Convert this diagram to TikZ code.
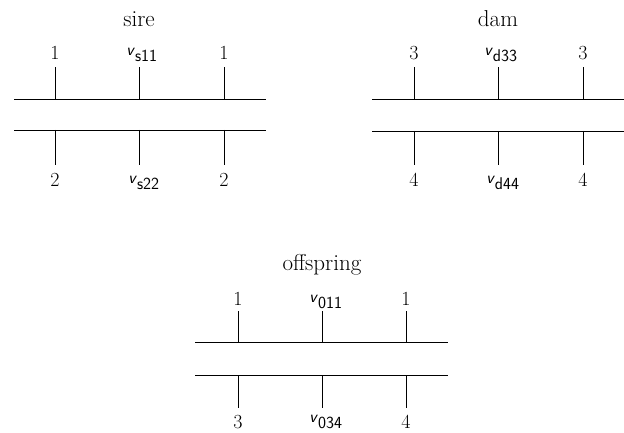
\documentclass[tikz,border=0pt]{standalone}
\usepackage{fontspec}
\usepackage{tikz}
\usetikzlibrary{positioning}

\newcommand{\locvar}[1]{\textsf{\itshape v}$_{\textsf{#1}}$}

\begin{document}
\begin{tikzpicture}[
    x=1pt, y=-1pt,
    chrom/.style={line width=0.9pt},
    locus/.style={line width=0.8pt},
    allele/.style={font=\fontsize{20}{22}\selectfont, inner sep=0pt},
    variance/.style={font=\fontsize{17}{19}\selectfont, inner sep=0pt},
    title/.style={font=\fontsize{23}{26}\selectfont, inner sep=0pt},
  ]
  \useasboundingbox (0,0) rectangle (624,433);

% ============================ sire ======================================
\begin{scope}[shift={(14,99)}]
  % ---- the two homologous lines ----------------------------------------
  \coordinate (sTopL) at (0,0);   \coordinate (sTopR) at (252,0);
  \coordinate (sBotL) at (0,31);  \coordinate (sBotR) at (252,31);
  \draw[chrom] (sTopL) -- (sTopR);
  \draw[chrom] (sBotL) -- (sBotR);

  % ---- loci and alleles -------------------------------------------------
  \coordinate (sA) at (41,0);   \coordinate (sAb) at (41,31);
  \coordinate (sB) at (125,0);  \coordinate (sBb) at (125,31);
  \coordinate (sC) at (210,0);  \coordinate (sCb) at (210,31);
  \node[allele] (sA1) at (41,-46) {1};
  \node[variance] (sB1) at (128,-44) {\locvar{s11}};
  \node[allele] (sC1) at (210,-46) {1};
  \node[allele] (sA2) at (41,81) {2};
  \node[variance] (sB2) at (130,84) {\locvar{s22}};
  \node[allele] (sC2) at (210,81) {2};
  \draw[locus] (sA) -- ++(0,-32);  \draw[locus] (sAb) -- ++(0,35);
  \draw[locus] (sB) -- ++(0,-32);  \draw[locus] (sBb) -- ++(0,35);
  \draw[locus] (sC) -- ++(0,-32);  \draw[locus] (sCb) -- ++(0,35);

  \node[title] (sire) at (125,-80) {sire};
\end{scope}

% ============================ dam =======================================
\begin{scope}[shift={(372,99)}]
  \coordinate (dTopL) at (0,0);   \coordinate (dTopR) at (252,0);
  \coordinate (dBotL) at (0,32);  \coordinate (dBotR) at (252,32);
  \draw[chrom] (dTopL) -- (dTopR);
  \draw[chrom] (dBotL) -- (dBotR);

  \coordinate (dA) at (42,0);   \coordinate (dAb) at (42,32);
  \coordinate (dB) at (126,0);  \coordinate (dBb) at (126,32);
  \coordinate (dC) at (211,0);  \coordinate (dCb) at (211,32);
  \node[allele] (dA3) at (42,-46) {3};
  \node[variance] (dB3) at (129,-44) {\locvar{d33}};
  \node[allele] (dC3) at (211,-46) {3};
  \node[allele] (dA4) at (42,81) {4};
  \node[variance] (dB4) at (131,84) {\locvar{d44}};
  \node[allele] (dC4) at (211,81) {4};
  \draw[locus] (dA) -- ++(0,-32);  \draw[locus] (dAb) -- ++(0,34);
  \draw[locus] (dB) -- ++(0,-32);  \draw[locus] (dBb) -- ++(0,34);
  \draw[locus] (dC) -- ++(0,-32);  \draw[locus] (dCb) -- ++(0,34);

  \node[title] (dam) at (126,-80) {dam};
\end{scope}

% ============================ offspring =================================
\begin{scope}[shift={(195,342)}]
  \coordinate (oTopL) at (0,0);   \coordinate (oTopR) at (253,0);
  \coordinate (oBotL) at (0,33);  \coordinate (oBotR) at (253,33);
  \draw[chrom] (oTopL) -- (oTopR);
  \draw[chrom] (oBotL) -- (oBotR);

  \coordinate (oA) at (43,0);   \coordinate (oAb) at (43,33);
  \coordinate (oB) at (127,0);  \coordinate (oBb) at (127,33);
  \coordinate (oC) at (211,0);  \coordinate (oCb) at (211,33);
  \node[allele] (oA1) at (43,-43) {1};
  \node[variance] (oB1) at (131,-40) {\locvar{011}};
  \node[allele] (oC1) at (211,-43) {1};
  \node[allele] (oA3) at (43,80) {3};
  \node[variance] (oB4) at (131,80) {\locvar{034}};
  \node[allele] (oC4) at (211,80) {4};
  \draw[locus] (oA) -- ++(0,-31);  \draw[locus] (oAb) -- ++(0,33);
  \draw[locus] (oB) -- ++(0,-31);  \draw[locus] (oBb) -- ++(0,33);
  \draw[locus] (oC) -- ++(0,-31);  \draw[locus] (oCb) -- ++(0,33);

  \node[title] (offspring) at (127,-77) {offspring};
\end{scope}

\end{tikzpicture}
\end{document}
